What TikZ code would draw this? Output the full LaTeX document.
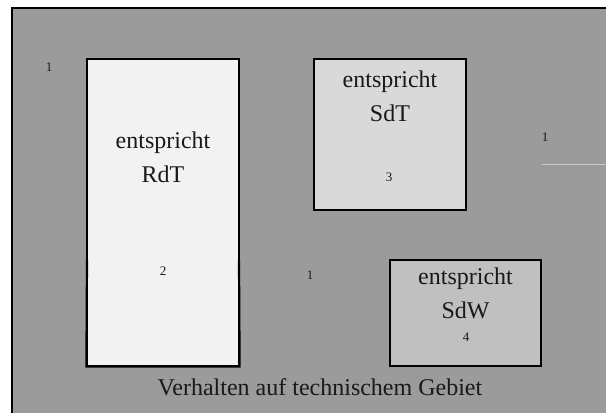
\documentclass[tikz,border=0pt]{standalone}
\usepackage{fontspec}
\setmainfont{Liberation Serif}
\definecolor{bggray}{RGB}{155,155,155}
\definecolor{boxA}{RGB}{242,242,242}
\definecolor{boxB}{RGB}{217,217,217}
\definecolor{boxC}{RGB}{192,192,192}
\definecolor{faint}{RGB}{200,200,200}
\definecolor{ink}{RGB}{25,25,25}
\begin{document}
\begin{tikzpicture}[x=1pt,y=-1pt,
  bigtext/.style={anchor=base,inner sep=0pt,font=\fontsize{24}{30}\selectfont,text=ink},
  smalltext/.style={anchor=base,inner sep=0pt,font=\fontsize{13}{15}\selectfont,text=ink},
  panel/.style={draw=black,line width=2pt,inner sep=0pt}]
\useasboundingbox (0,0) rectangle (606,413);
\fill[white] (0,0) rectangle (606,413);
% outer frame
\coordinate (otl) at (12,8);
\coordinate (otr) at (606,8);
\coordinate (obl) at (12,413);
\fill[bggray] (otl) rectangle (606,413);
\draw[line width=2.2pt] (obl) -- (otl) -- (otr);
\coordinate (fa) at (542,164);
\coordinate (fb) at (606,164);
\draw[faint,line width=0.8pt] (fa) -- (fb);
% box 1 (RdT)
\node[fill=boxA,draw=black,line width=1.2pt,minimum width=152pt,minimum height=307pt,inner sep=0pt] (b1) at (163,212.5) {};
\coordinate (b1l) at (87,260);
\coordinate (b1r) at (239,260);
\draw[line width=2.2pt] (b1l) -- (b1.south west) -- (b1.south east) -- (b1r);
% box 3 (SdT)
\node[panel,fill=boxB,minimum width=152pt,minimum height=151pt] (b3) at (390,134.5) {};
% box 4 (SdW)
\node[panel,fill=boxC,minimum width=151pt,minimum height=106pt] (b4) at (465.5,313) {};
% texts
\node[bigtext] (t1a) at (163,148) {entspricht};
\node[bigtext] (t1b) at (163,182) {RdT};
\node[bigtext] (t3a) at (390,87) {entspricht};
\node[bigtext] (t3b) at (390,121) {SdT};
\node[bigtext] (t4a) at (465.5,284) {entspricht};
\node[bigtext] (t4b) at (465.5,318) {SdW};
\node[bigtext] (tb) at (320,395) {Verhalten auf technischem Gebiet};
% small numbers
\node[smalltext] (n1a) at (49,71) {1};
\node[smalltext] (n2) at (163,275) {2};
\node[smalltext] (n3) at (389,181) {3};
\node[smalltext] (n4) at (466,341) {4};
\node[smalltext] (n1b) at (545,141) {1};
\node[smalltext] (n1c) at (310,279) {1};
\end{tikzpicture}
\end{document}
